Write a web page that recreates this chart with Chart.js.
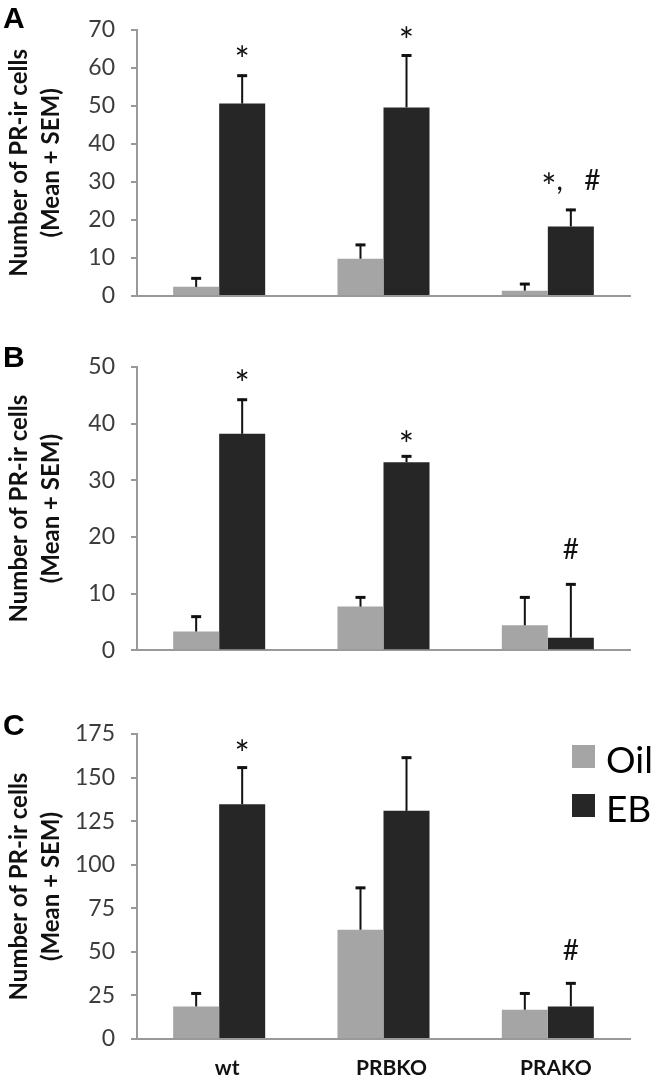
<!DOCTYPE html>
<html>
<head>
<meta charset="utf-8">
<script src="https://cdn.jsdelivr.net/npm/chart.js"></script>
<style>
  html, body { margin: 0; padding: 0; background: #fff; }
  #page { position: relative; width: 656px; height: 1082px; overflow: hidden; }
  .panel { position: absolute; left: 0; width: 656px; }
  .letter { position: absolute; left: 3px; font-family: 'Liberation Sans', Arial, sans-serif; font-weight: bold; font-size: 30px; line-height: 30px; color: #000; }
</style>
</head>
<body>
<div id="page">
  <div class="panel" style="top:0;height:330px"><canvas id="chartA"></canvas></div>
  <div class="panel" style="top:330px;height:350px"><canvas id="chartB"></canvas></div>
  <div class="panel" style="top:680px;height:402px"><canvas id="chartC"></canvas></div>
  <div class="letter" style="top:3px">A</div>
  <div class="letter" style="top:342px">B</div>
  <div class="letter" style="top:710px">C</div>
</div>
<script>
const categories = ['wt', 'PRBKO', 'PRAKO'];
const seriesNames = ['Oil', 'EB'];
const yTitle = ['Number of PR-ir cells', '(Mean + SEM)'];

// panel A
const ticksA = [0, 10, 20, 30, 40, 50, 60, 70];
const oilA = [2.4, 9.8, 1.4];
const oilSemA = [2.5, 3.9, 2.0];
const ebA = [50.6, 49.6, 18.3];
const ebSemA = [7.6, 13.9, 4.6];
const marksA = ['*', '*', '*,   #'];
const markAtA = [63.8, 69.0, 30.5];

// panel B
const ticksB = [0, 10, 20, 30, 40, 50];
const oilB = [3.3, 7.7, 4.4];
const oilSemB = [2.8, 1.8, 5.1];
const ebB = [38.2, 33.2, 2.2];
const ebSemB = [6.2, 1.2, 9.6];
const marksB = ['*', '*', '#'];
const markAtB = [48.3, 37.5, 17.8];

// panel C
const ticksC = [0, 25, 50, 75, 100, 125, 150, 175];
const oilC = [18.7, 62.7, 16.8];
const oilSemC = [8.0, 24.6, 9.9];
const ebC = [134.7, 130.9, 18.7];
const ebSemC = [21.6, 31.1, 13.8];
const marksC = ['*', '', '#'];
const markAtC = [167.7, 0, 51.0];

const GREY = '#a5a5a5';
const BLACK = '#262626';
const AXIS = '#999999';

const errorBars = {
  id: 'errorBars',
  afterDatasetsDraw(chart) {
    const ctx = chart.ctx;
    const y = chart.scales.y;
    chart.data.datasets.forEach((ds, di) => {
      chart.getDatasetMeta(di).data.forEach((bar, i) => {
        const base = y.getPixelForValue(ds.data[i]);
        const top = y.getPixelForValue(ds.data[i] + ds.sem[i]);
        ctx.save();
        ctx.strokeStyle = '#111';
        ctx.lineWidth = 2;
        ctx.beginPath();
        ctx.moveTo(bar.x, base);
        ctx.lineTo(bar.x, top);
        ctx.stroke();
        ctx.lineWidth = 3;
        ctx.beginPath();
        ctx.moveTo(bar.x - 5, top + 1);
        ctx.lineTo(bar.x + 5, top + 1);
        ctx.stroke();
        ctx.restore();
      });
    });
  }
};

// asterisks are drawn larger than the other marks, like in the figure
function markFont(ch) { return ch === '*' ? '36px Lato' : '28px Lato'; }
function markShift(ch) { return ch === '*' ? 20 : 10; }

const sigMarks = {
  id: 'sigMarks',
  afterDatasetsDraw(chart, args, opts) {
    if (!opts.labels) return;
    const ctx = chart.ctx;
    const y = chart.scales.y;
    const bars = chart.getDatasetMeta(1).data;
    ctx.save();
    ctx.fillStyle = '#111';
    ctx.textAlign = 'left';
    ctx.textBaseline = 'alphabetic';
    opts.labels.forEach((t, i) => {
      if (!t) return;
      const chars = t.split('');
      let total = 0;
      chars.forEach(ch => { ctx.font = markFont(ch); total += ctx.measureText(ch).width; });
      let x = bars[i].x - total / 2;
      const cy = y.getPixelForValue(opts.at[i]);
      chars.forEach(ch => {
        ctx.font = markFont(ch);
        ctx.fillText(ch, x, cy + markShift(ch));
        x += ctx.measureText(ch).width;
      });
    });
    ctx.restore();
  }
};

const boxLegend = {
  id: 'boxLegend',
  afterDraw(chart, args, opts) {
    if (!opts.show) return;
    const ctx = chart.ctx;
    ctx.save();
    ctx.font = '37px Lato';
    ctx.textBaseline = 'alphabetic';
    ctx.textAlign = 'left';
    chart.data.datasets.forEach((ds, i) => {
      const top = 65 + i * 49;
      ctx.fillStyle = ds.backgroundColor;
      ctx.fillRect(572, top, 23, 23);
      ctx.fillStyle = '#000';
      ctx.fillText(ds.label, 606, top + 28);
    });
    ctx.restore();
  }
};

function makePanel(id, ticks, oil, oilSem, eb, ebSem, marks, markAt, o) {
  return new Chart(document.getElementById(id), {
    type: 'bar',
    data: {
      labels: categories,
      datasets: [
        { label: seriesNames[0], data: oil, sem: oilSem, backgroundColor: GREY },
        { label: seriesNames[1], data: eb, sem: ebSem, backgroundColor: BLACK }
      ]
    },
    options: {
      responsive: true,
      maintainAspectRatio: false,
      animation: false,
      barPercentage: 1,
      categoryPercentage: 0.56,
      layout: { padding: { top: o.top, bottom: o.bottom, left: 0, right: 26 } },
      plugins: {
        legend: { display: false },
        tooltip: { enabled: false },
        sigMarks: { labels: marks, at: markAt },
        boxLegend: { show: !!o.legend }
      },
      scales: {
        x: {
          grid: { display: false, drawTicks: false },
          border: { color: AXIS, width: 2 },
          ticks: {
            display: !!o.xLabels,
            color: '#111',
            padding: 17,
            labelOffset: 8,
            font: { family: 'Lato', weight: 'bold', size: 21 }
          },
          afterFit: s => { s.height = o.xLabels ? 43 : 0; }
        },
        y: {
          min: ticks[0],
          max: ticks[ticks.length - 1],
          afterBuildTicks: s => { s.ticks = ticks.map(v => ({ value: v })); },
          afterFit: s => { s.width = 137; },
          grid: { drawOnChartArea: false, drawTicks: true, tickLength: 6, color: AXIS, lineWidth: 2 },
          border: { color: AXIS, width: 2 },
          ticks: {
            color: '#3c3c3c',
            padding: 16,
            font: { family: 'Lato', size: 23 }
          },
          title: {
            display: true,
            text: yTitle,
            color: '#111',
            padding: { top: 4, bottom: 0 },
            font: { family: 'Lato', weight: 'bold', size: 24, lineHeight: 1.3 }
          }
        }
      }
    },
    plugins: [errorBars, sigMarks, boxLegend]
  });
}

makePanel('chartA', ticksA, oilA, oilSemA, ebA, ebSemA, marksA, markAtA, { top: 21, bottom: 34 });
makePanel('chartB', ticksB, oilB, oilSemB, ebB, ebSemB, marksB, markAtB, { top: 37, bottom: 13 });
makePanel('chartC', ticksC, oilC, oilSemC, ebC, ebSemC, marksC, markAtC, { top: 54, bottom: 0, xLabels: true, legend: true });
</script>
</body>
</html>
